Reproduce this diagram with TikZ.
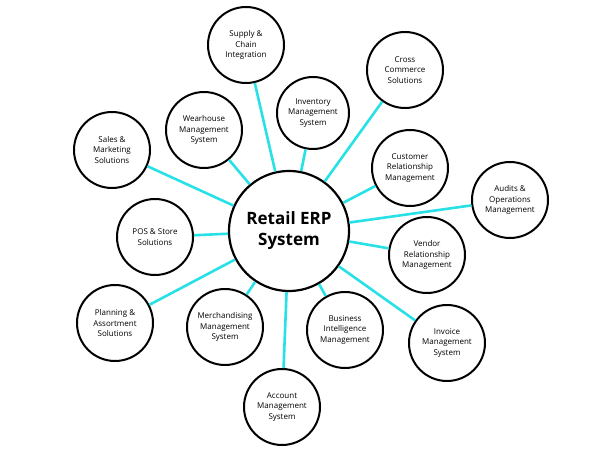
\documentclass[tikz,border=0pt]{standalone}
\usepackage{fontspec}
\setmainfont{Open Sans}
\begin{document}
\begin{tikzpicture}[x=1pt,y=-1pt,
  sat/.style={circle,draw=black,line width=2pt,fill=white,minimum size=76pt,inner sep=0pt,align=center,font=\fontsize{8}{10.5}\selectfont},
  link/.style={draw={rgb,255:red,40;green,225;blue,230},line width=2.6pt}]
\useasboundingbox (0,0) rectangle (600,449);
\node[circle,draw=black,line width=2.2pt,fill=white,minimum size=120pt,inner sep=0pt,align=center,font=\fontsize{17}{21}\selectfont\bfseries] (c) at (289,231) {Retail ERP\\System};
\node[sat] (a1) at (246,45) {Supply \&\\Chain\\Integration};
\node[sat] (a2) at (405,70) {Cross\\Commerce\\Solutions};
\node[sat,minimum size=72pt] (a3) at (313,113) {Inventory\\Management\\System};
\node[sat] (a4) at (204,130) {Wearhouse\\Management\\System};
\node[sat] (a5) at (112,150) {Sales \&\\Marketing\\Solutions};
\node[sat] (a6) at (410,168) {Customer\\Relationship\\Management};
\node[sat] (a7) at (510,200) {Audits \&\\Operations\\Management};
\node[sat] (a8) at (155,237) {POS \& Store\\Solutions};
\node[sat] (a9) at (427,255) {Vendor\\Relationship\\Management};
\node[sat] (a10) at (115,323) {Planning \&\\Assortment\\Solutions};
\node[sat] (a11) at (225,327) {Merchandising\\Management\\System};
\node[sat] (a12) at (345,330) {Business\\Intelligence\\Management};
\node[sat] (a13) at (447,343) {Invoice\\Management\\System};
\node[sat] (a14) at (282,407) {Account\\Management\\System};
\begin{scope}[on background layer/.style={}]
\end{scope}
\foreach \n in {a1,a2,a3,a4,a5,a6,a7,a8,a9,a10,a11,a12,a13,a14}
  \path[link] (c) -- (\n);
\end{tikzpicture}
\end{document}
